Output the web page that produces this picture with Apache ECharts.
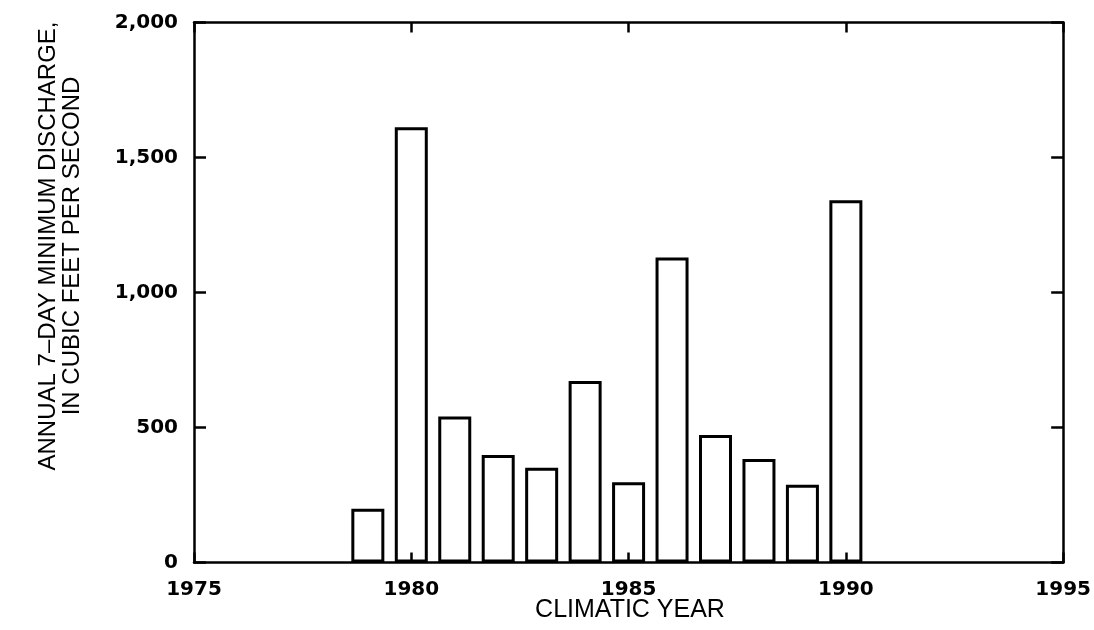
<!DOCTYPE html>
<html>
<head>
<meta charset="utf-8">
<script src="https://cdn.jsdelivr.net/npm/echarts@6/dist/echarts.min.js"></script>
<style>html,body{margin:0;padding:0;background:#fff;}#c{width:1094px;height:630px;}</style>
</head>
<body>
<div id="c"></div>
<script>
const years = [1979, 1980, 1981, 1982, 1983, 1984, 1985, 1986, 1987, 1988, 1989, 1990];
const discharge = [199, 1612, 541, 398, 351, 672, 297, 1130, 472, 383, 288, 1342];
const xTickYears = [1975, 1980, 1985, 1990, 1995];
const yTickValues = [0, 500, 1000, 1500, 2000];
const xTitle = 'CLIMATIC YEAR';
const yTitle = ['ANNUAL 7\u2013DAY MINIMUM DISCHARGE,', 'IN CUBIC FEET PER SECOND'];

const chart = echarts.init(document.getElementById('c'), null, {renderer: 'canvas'});
const lineStyle = {color: '#000', width: 2.5};
const tickFont = {color: '#000', fontFamily: 'DejaVu Sans', fontWeight: 'bold', fontSize: 20};
function fmt(v) { return String(v).replace(/\B(?=(\d{3})+(?!\d))/g, ','); }

chart.setOption({
  animation: false,
  backgroundColor: '#fff',
  grid: {left: 194, right: 28, top: 22.5, bottom: 67.5, containLabel: false},
  xAxis: [{
    type: 'value', position: 'bottom', z: 10,
    min: xTickYears[0], max: xTickYears[xTickYears.length - 1], interval: 5,
    axisLine: {show: true, onZero: false, lineStyle: lineStyle},
    axisTick: {show: true, inside: true, length: 10, lineStyle: lineStyle},
    axisLabel: Object.assign({margin: 17, formatter: v => String(v)}, tickFont),
    splitLine: {show: false}
  }, {
    type: 'value', position: 'top', z: 10,
    min: xTickYears[0], max: xTickYears[xTickYears.length - 1], interval: 5,
    axisLine: {show: true, onZero: false, lineStyle: lineStyle},
    axisTick: {show: true, inside: true, length: 10, lineStyle: lineStyle},
    axisLabel: {show: false},
    splitLine: {show: false}
  }],
  yAxis: [{
    type: 'value', position: 'left', z: 10,
    min: yTickValues[0], max: yTickValues[yTickValues.length - 1], interval: 500,
    axisLine: {show: true, onZero: false, lineStyle: lineStyle},
    axisTick: {show: true, inside: true, length: 12, lineStyle: lineStyle},
    axisLabel: Object.assign({margin: 16, formatter: v => fmt(v)}, tickFont),
    splitLine: {show: false}
  }, {
    type: 'value', position: 'right', z: 10,
    min: yTickValues[0], max: yTickValues[yTickValues.length - 1], interval: 500,
    axisLine: {show: true, onZero: false, lineStyle: lineStyle},
    axisTick: {show: true, inside: true, length: 12, lineStyle: lineStyle},
    axisLabel: {show: false},
    splitLine: {show: false}
  }],
  graphic: [{
    type: 'text', x: 630, y: 610,
    style: {text: xTitle, fill: '#000', font: '25px "Liberation Sans"', textAlign: 'center', textVerticalAlign: 'middle'}
  }, {
    type: 'text', x: 60, y: 246, rotation: Math.PI / 2,
    style: {text: yTitle.join('\n'), fill: '#000', font: '24px "Liberation Sans"', lineHeight: 24, textAlign: 'center', textVerticalAlign: 'middle'}
  }],
  series: [{
    type: 'bar',
    xAxisIndex: 0, yAxisIndex: 0,
    barWidth: 33,
    itemStyle: {color: '#fff', borderColor: '#000', borderWidth: 3},
    data: years.map((y, i) => [y, discharge[i]])
  }]
});
</script>
</body>
</html>
